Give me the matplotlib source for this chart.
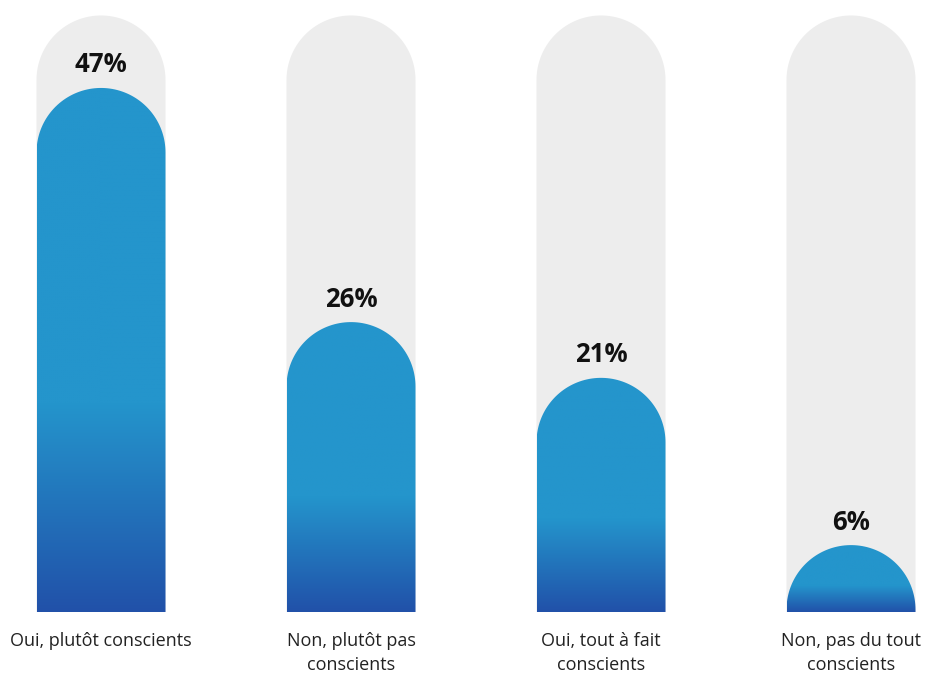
import numpy as np
import matplotlib
matplotlib.use("Agg")
import matplotlib.pyplot as plt
from matplotlib.path import Path
from matplotlib.patches import PathPatch
from matplotlib.colors import LinearSegmentedColormap

categories = ["Oui, plutôt conscients", "Non, plutôt pas\nconscients",
              "Oui, tout à fait\nconscients", "Non, pas du tout\nconscients"]
values = [47, 26, 21, 6]
value_labels = ["47%", "26%", "21%", "6%"]
track_max = 53.5

W, H = 928, 673
fig = plt.figure(figsize=(W / 100, H / 100), dpi=100)
ax = fig.add_axes([0, 0, 1, 1])
ax.axis("off")

px_x = 250.0      # pixels per x unit
px_y = 11.15      # pixels per y unit
x0_px = 101.0
base_px = 61.0
ax.set_xlim(-x0_px / px_x, (W - x0_px) / px_x)
ax.set_ylim(-base_px / px_y, (H - base_px) / px_y)

bw = 0.516
rx = bw / 2
ry = rx * px_x / px_y


def capsule(xc, h):
    n = 80
    t = np.linspace(np.pi, 0, n)
    yc = h - ry
    verts = [(xc - rx, 0)]
    verts += [(xc + rx * np.cos(a), yc + ry * np.sin(a)) for a in t]
    verts += [(xc + rx, 0), (xc - rx, 0)]
    codes = [Path.MOVETO] + [Path.LINETO] * (len(verts) - 2) + [Path.CLOSEPOLY]
    return Path(verts, codes)


cmap = LinearSegmentedColormap.from_list("g", ["#2151A9", "#2495CC"], N=256)

for i, (v, lab) in enumerate(zip(values, value_labels)):
    xc = i
    track = PathPatch(capsule(xc, track_max), facecolor="#EDEDED", edgecolor="none", zorder=1)
    ax.add_patch(track)
    bar = PathPatch(capsule(xc, v), facecolor="none", edgecolor="none", zorder=2)
    ax.add_patch(bar)
    grad = np.linspace(0, 1, 400)
    grad = np.clip(grad / 0.40, 0, 1)
    img = ax.imshow(grad[:, None], extent=[xc - rx, xc + rx, 0, v], origin="lower",
                    aspect="auto", cmap=cmap, vmin=0, vmax=1, zorder=2,
                    interpolation="bilinear")
    img.set_clip_path(bar)
    ax.text(xc, v + 0.85, lab, ha="center", va="bottom", fontsize=18.5,
            fontweight="bold", family="Open Sans", color="#111111", zorder=3)
    ax.text(xc, -1.75, categories[i], ha="center", va="top", fontsize=13,
            family="Open Sans", color="#222222", linespacing=1.45, zorder=3)

ax.set_xlim(-x0_px / px_x, (W - x0_px) / px_x)
ax.set_ylim(-base_px / px_y, (H - base_px) / px_y)
fig.savefig("out.png", dpi=100, facecolor="white")
